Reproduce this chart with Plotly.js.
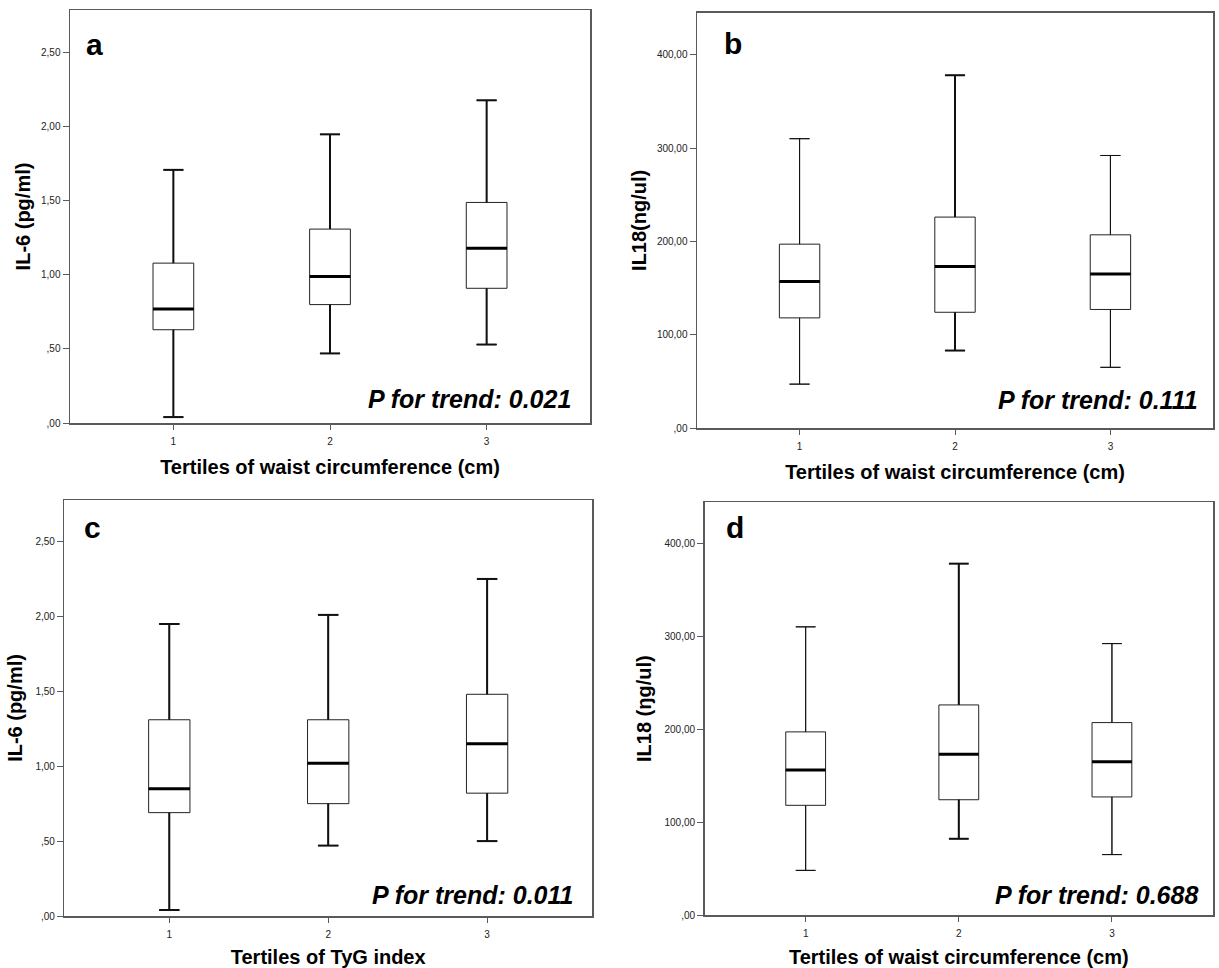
<!DOCTYPE html>
<html>
<head>
<meta charset="utf-8">
<script src="https://cdn.plot.ly/plotly-3.0.1.min.js"></script>
<style>html,body{margin:0;padding:0;background:#fff;}#chart{width:1219px;height:968px;}</style>
</head>
<body>
<div id="chart"></div>
<script>
// ---- Data ----
const cats = [1, 2, 3];
const xTickText = ['1', '2', '3'];

const il6TickVals = [0, 0.5, 1, 1.5, 2, 2.5];
const il6TickText = [',00', ',50', '1,00', '1,50', '2,00', '2,50'];
const il18TickVals = [0, 100, 200, 300, 400];
const il18TickText = [',00', '100,00', '200,00', '300,00', '400,00'];

// Panel a: IL-6 by tertiles of waist circumference
const aLow  = [0.04, 0.47, 0.53];
const aQ1   = [0.63, 0.80, 0.91];
const aMed  = [0.77, 0.99, 1.18];
const aQ3   = [1.08, 1.31, 1.49];
const aHigh = [1.71, 1.95, 2.18];

// Panel b: IL18 by tertiles of waist circumference
const bLow  = [47, 83, 65];
const bQ1   = [118, 124, 127];
const bMed  = [157, 173, 165];
const bQ3   = [197, 226, 207];
const bHigh = [310, 378, 292];

// Panel c: IL-6 by tertiles of TyG index
const cLow  = [0.04, 0.47, 0.50];
const cQ1   = [0.69, 0.75, 0.82];
const cMed  = [0.85, 1.02, 1.15];
const cQ3   = [1.31, 1.31, 1.48];
const cHigh = [1.95, 2.01, 2.25];

// Panel d: IL18 by tertiles of waist circumference
const dLow  = [48, 82, 65];
const dQ1   = [118, 124, 127];
const dMed  = [156, 173, 165];
const dQ3   = [197, 226, 207];
const dHigh = [310, 378, 292];

const pValues = ['0.021', '0.111', '0.011', '0.688'];
const panelLetters = ['a', 'b', 'c', 'd'];
const yTitles = ['IL-6 (pg/ml)', 'IL18(ng/ul)', 'IL-6 (pg/ml)', 'IL18 (ŋg/ul)'];
const xTitles = ['Tertiles of waist circumference (cm)', 'Tertiles of waist circumference (cm)',
                 'Tertiles of TyG index', 'Tertiles of waist circumference (cm)'];

// ---- Layout / style ----
const W = 1219, H = 968;
const FONT = 'Liberation Sans, Arial, sans-serif';
const FRAME = '#5a5a5a';
const BOXW = 0.26;      // box width (data units)
const CAPH = 0.064;     // half whisker-cap width (data units)

const panels = [
  {low: aLow, q1: aQ1, med: aMed, q3: aQ3, high: aHigh, tv: il6TickVals, tt: il6TickText,
   px: [70, 10, 590, 423], yr: [0, 2.79], ww: [2, 2, 2], letter: [0.026, 0.917], pPos: [0.968, 0.057], ys: 5},
  {low: bLow, q1: bQ1, med: bMed, q3: bQ3, high: bHigh, tv: il18TickVals, tt: il18TickText,
   px: [697, 12.7, 1213, 428], yr: [0, 445], ww: [1, 2, 1], letter: [0.048, 0.927], pPos: [0.975, 0.067], ys: 5},
  {low: cLow, q1: cQ1, med: cMed, q3: cQ3, high: cHigh, tv: il6TickVals, tt: il6TickText,
   px: [64.4, 500, 592, 916], yr: [0, 2.777], ww: [2, 2, 2], letter: [0.034, 0.933], pPos: [0.967, 0.05], ys: 7},
  {low: dLow, q1: dQ1, med: dMed, q3: dQ3, high: dHigh, tv: il18TickVals, tt: il18TickText,
   px: [704.6, 502.3, 1213, 915], yr: [0, 444], ww: [1, 2, 1], letter: [0.038, 0.938], pPos: [0.975, 0.048], ys: 7}
];

const traces = [];
const layout = {
  width: W, height: H,
  margin: {l: 0, r: 0, t: 0, b: 0},
  paper_bgcolor: '#fff', plot_bgcolor: '#fff',
  showlegend: false,
  font: {family: FONT, color: '#000'},
  annotations: []
};

panels.forEach((p, i) => {
  const n = i === 0 ? '' : String(i + 1);
  const xa = 'x' + n, ya = 'y' + n;

  // Box (thin outline, white fill)
  traces.push({
    type: 'box', orientation: 'v', x: cats,
    q1: p.q1, median: p.med, q3: p.q3, lowerfence: p.low, upperfence: p.high,
    xaxis: xa, yaxis: ya, width: BOXW, whiskerwidth: 0.5,
    fillcolor: '#fff', line: {color: '#222', width: 1},
    boxpoints: false, hoverinfo: 'skip'
  });

  // Whiskers with caps, per group (line weight differs by group)
  cats.forEach((c, g) => {
    const w = p.ww[g];
    traces.push({
      type: 'scatter', mode: 'markers', x: [c, c], y: [p.high[g], p.low[g]],
      xaxis: xa, yaxis: ya, marker: {size: 1, opacity: 0}, hoverinfo: 'skip',
      error_y: {type: 'data', symmetric: false,
                array: [0, p.q1[g] - p.low[g]], arrayminus: [p.high[g] - p.q3[g], 0],
                width: 0, thickness: w, color: '#111'},
      error_x: {type: 'data', symmetric: true, array: [CAPH, CAPH], width: 0, thickness: w, color: '#111'}
    });
  });

  // Median (thick)
  traces.push({
    type: 'scatter', mode: 'markers', x: cats, y: p.med,
    xaxis: xa, yaxis: ya, marker: {size: 1, opacity: 0}, hoverinfo: 'skip',
    error_x: {type: 'data', symmetric: true, array: cats.map(() => BOXW / 2), width: 0, thickness: 3, color: '#000'}
  });

  const [x0, y0, x1, y1] = p.px;
  layout['xaxis' + n] = {
    domain: [x0 / W, x1 / W], anchor: ya, range: [0.34, 3.66],
    tickmode: 'array', tickvals: cats, ticktext: xTickText,
    ticks: 'outside', ticklen: 5, tickwidth: 1, tickcolor: FRAME, ticklabelstandoff: 3,
    showline: true, mirror: true, linecolor: FRAME, linewidth: 1.5,
    showgrid: false, zeroline: false, fixedrange: true,
    tickfont: {family: FONT, size: 10, color: '#222'},
    title: {text: '<b>' + xTitles[i] + '</b>', font: {family: FONT, size: 20, color: '#000'}, standoff: 14}
  };
  layout['yaxis' + n] = {
    domain: [1 - y1 / H, 1 - y0 / H], anchor: xa, range: p.yr,
    tickmode: 'array', tickvals: p.tv, ticktext: p.tt,
    ticks: 'outside', ticklen: 6, tickwidth: 1, tickcolor: FRAME,
    showline: true, mirror: true, linecolor: FRAME, linewidth: 1.5,
    showgrid: false, zeroline: false, fixedrange: true,
    tickfont: {family: FONT, size: 10, color: '#222'},
    title: {text: '<b>' + yTitles[i] + '</b>', font: {family: FONT, size: 20, color: '#000'}, standoff: p.ys}
  };

  layout.annotations.push({
    xref: xa + ' domain', yref: ya + ' domain', x: p.letter[0], y: p.letter[1],
    xanchor: 'left', yanchor: 'middle', showarrow: false,
    text: '<b>' + panelLetters[i] + '</b>', font: {family: FONT, size: 30, color: '#000'}
  });
  layout.annotations.push({
    xref: xa + ' domain', yref: ya + ' domain', x: p.pPos[0], y: p.pPos[1],
    xanchor: 'right', yanchor: 'middle', showarrow: false,
    text: '<b><i>P for trend: ' + pValues[i] + '</i></b>', font: {family: FONT, size: 25, color: '#000'}
  });
});

Plotly.newPlot('chart', traces, layout, {staticPlot: true, displayModeBar: false});
</script>
</body>
</html>
